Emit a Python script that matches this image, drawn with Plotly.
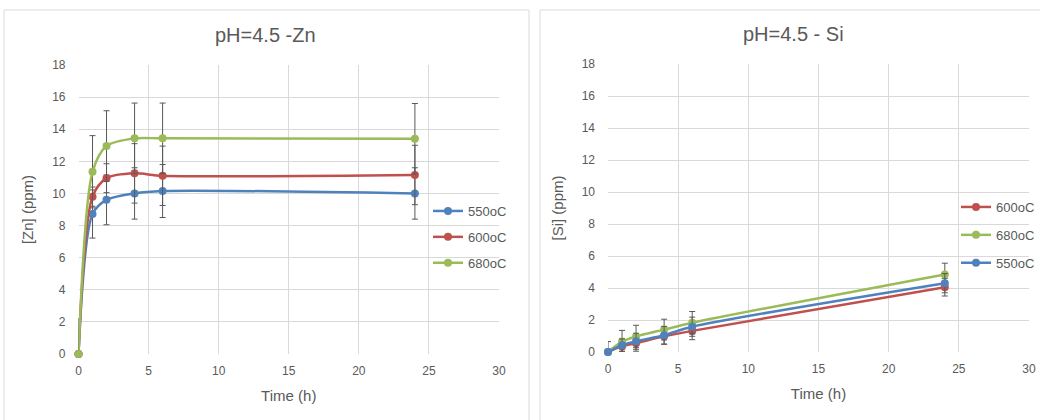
import plotly.graph_objects as go

time_h = [0, 1, 2, 4, 6, 24]

# Left chart: [Zn] (ppm)
zn_550 = [0, 8.72, 9.6, 10.0, 10.15, 10.0]
zn_600 = [0, 9.8, 10.95, 11.25, 11.1, 11.15]
zn_680 = [0, 11.35, 12.95, 13.43, 13.43, 13.4]
zn_550_err = [0, 1.5, 1.55, 1.6, 1.65, 1.6]
zn_600_err = [0, 0.6, 0.9, 1.85, 1.85, 1.85]
zn_680_err = [2.2, 2.25, 2.2, 2.2, 2.2, 2.2]

# Right chart: [Si] (ppm)
si_600 = [0, 0.35, 0.55, 0.98, 1.32, 4.05]
si_680 = [0, 0.65, 0.97, 1.4, 1.83, 4.85]
si_550 = [0, 0.42, 0.67, 1.05, 1.58, 4.3]
si_600_err = [0, 0.3, 0.5, 0.5, 0.55, 0.55]
si_680_err = [0, 0.7, 0.7, 0.65, 0.7, 0.7]
si_550_err = [0.65, 0.4, 0.5, 0.55, 0.6, 0.6]

title_left = "pH=4.5 -Zn"
title_right = "pH=4.5 - Si"
x_title = "Time (h)"
y_title_left = "[Zn] (ppm)"
y_title_right = "[Si] (ppm)"

C_BLUE = "#4F81BD"
C_RED = "#C0504D"
C_GREEN = "#9BBB59"
TXT = "#595959"
GRID = "#D9D9D9"
FONT = "Liberation Sans, Arial"

W, H = 1040, 420


def px_x(p):
    return p / W


def px_y(p):
    return 1 - p / H


fig = go.Figure()


def add(xa, ya, y, err, name, color, legend, group):
    fig.add_trace(go.Scatter(
        x=time_h, y=y, name=name, xaxis=xa, yaxis=ya, cliponaxis=False,
        mode="lines+markers", line=dict(color=color, width=2.5, shape="spline", smoothing=0.8),
        marker=dict(color=color, size=8),
        error_y=dict(type="data", array=err, visible=True, color="#595959", thickness=1, width=3),
        legend=legend, legendgroup=group,
    ))


add("x", "y", zn_550, zn_550_err, "550oC", C_BLUE, "legend", "a")
add("x", "y", zn_600, zn_600_err, "600oC", C_RED, "legend", "b")
add("x", "y", zn_680, zn_680_err, "680oC", C_GREEN, "legend", "c")
add("x2", "y2", si_600, si_600_err, "600oC", C_RED, "legend2", "d")
add("x2", "y2", si_680, si_680_err, "680oC", C_GREEN, "legend2", "e")
add("x2", "y2", si_550, si_550_err, "550oC", C_BLUE, "legend2", "f")

axis_common = dict(
    showgrid=True, gridcolor=GRID, gridwidth=1, zeroline=False,
    showline=False, ticks="", tickfont=dict(family=FONT, size=12, color=TXT),
    title_font=dict(family=FONT, size=15, color=TXT),
)

fig.update_layout(
    width=W, height=H,
    margin=dict(l=0, r=0, t=0, b=0, autoexpand=False),
    paper_bgcolor="white", plot_bgcolor="white",
    showlegend=True,
    xaxis=dict(domain=[px_x(78.5), px_x(499)], range=[0, 30], dtick=5, anchor="y",
               ticklabelstandoff=8, title=dict(text=x_title, standoff=13), **axis_common),
    yaxis=dict(domain=[px_y(354), px_y(65)], range=[0, 18], dtick=2, anchor="x",
               ticklabelstandoff=12, title=dict(text=y_title_left, standoff=14), **axis_common),
    xaxis2=dict(domain=[px_x(608), px_x(1029)], range=[0, 30], dtick=5, anchor="y2",
                ticklabelstandoff=8, title=dict(text=x_title, standoff=13), **axis_common),
    yaxis2=dict(domain=[px_y(352), px_y(64)], range=[0, 18], dtick=2, anchor="x2",
                ticklabelstandoff=12, title=dict(text=y_title_right, standoff=14), **axis_common),
    legend=dict(x=px_x(428), y=px_y(196), xanchor="left", yanchor="top",
                bgcolor="rgba(0,0,0,0)", font=dict(family=FONT, size=13, color=TXT),
                itemwidth=30, traceorder="grouped", tracegroupgap=6),
    legend2=dict(x=px_x(956), y=px_y(192), xanchor="left", yanchor="top",
                 bgcolor="rgba(0,0,0,0)", font=dict(family=FONT, size=13, color=TXT),
                 itemwidth=30, traceorder="grouped", tracegroupgap=8),
    annotations=[
        dict(text=title_left, x=px_x(265), y=px_y(35), xref="paper", yref="paper",
             xanchor="center", yanchor="middle",
             showarrow=False, font=dict(family=FONT, size=20, color=TXT)),
        dict(text=title_right, x=px_x(793), y=px_y(34), xref="paper", yref="paper",
             xanchor="center", yanchor="middle",
             showarrow=False, font=dict(family=FONT, size=20, color=TXT)),
    ],
    shapes=[
        dict(type="rect", xref="paper", yref="paper", x0=px_x(4), x1=px_x(529),
             y0=px_y(425), y1=px_y(10), line=dict(color=GRID, width=1)),
        dict(type="rect", xref="paper", yref="paper", x0=px_x(540), x1=px_x(1045),
             y0=px_y(425), y1=px_y(10), line=dict(color=GRID, width=1)),
    ],
)

fig.write_html("out.html", config={"displayModeBar": False},
               post_script="document.body.style.margin='0';")
